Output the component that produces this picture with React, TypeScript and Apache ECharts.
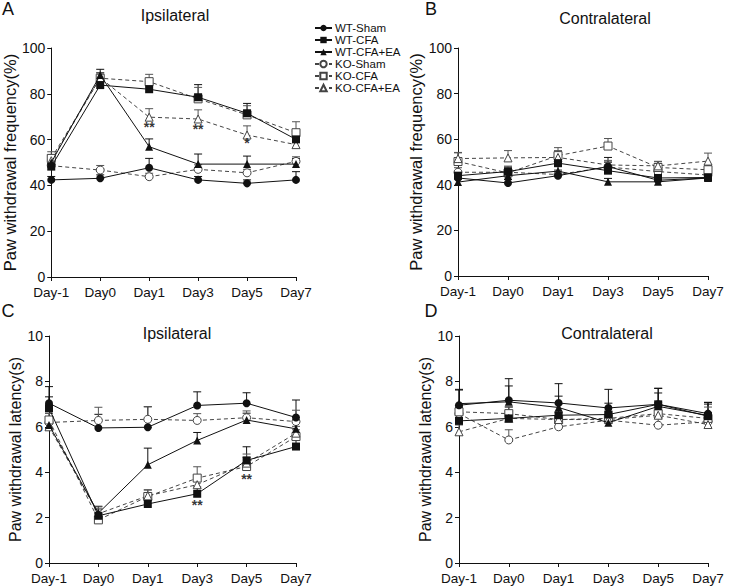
import React, { useEffect, useRef } from "react";
import * as echarts from "echarts";

const days = ["Day-1", "Day0", "Day1", "Day3", "Day5", "Day7"];
const groups = ["WT-Sham", "WT-CFA", "WT-CFA+EA", "KO-Sham", "KO-CFA", "KO-CFA+EA"];

// Panel A: ipsilateral withdrawal frequency (%), order = groups
const ipsiFreqMeans = [
  [42.4, 43.1, 47.7, 42.4, 40.9, 42.4],
  [48.2, 83.8, 82.0, 78.5, 71.5, 60.1],
  [50.0, 88.2, 56.9, 49.3, 49.3, 49.3],
  [48.6, 46.7, 43.8, 47.0, 45.5, 50.5],
  [51.8, 86.8, 85.3, 77.8, 70.8, 63.0],
  [50.8, 87.0, 69.8, 69.0, 62.0, 57.8],
];
const ipsiFreqErrs = [
  [1.5, 1.5, 4.1, 1.5, 1.5, 3.6],
  [3.0, 2.0, 2.5, 5.5, 4.3, 3.0],
  [3.0, 2.5, 3.4, 4.4, 3.5, 2.5],
  [2.0, 2.0, 1.5, 2.0, 1.5, 2.0],
  [2.9, 2.5, 3.2, 5.0, 4.0, 4.8],
  [2.5, 2.0, 3.7, 4.0, 4.0, 2.0],
];
const ipsiFreqStars: [string, number, string][] = [
  ["Day1", 65.5, "**"],
  ["Day3", 64.8, "**"],
  ["Day5", 58.6, "*"],
];

// Panel B: contralateral withdrawal frequency (%)
const contraFreqMeans = [
  [43.0, 40.8, 44.0, 48.0, 42.0, 43.0],
  [44.0, 45.8, 49.5, 46.2, 43.0, 43.2],
  [41.2, 44.0, 46.0, 41.3, 41.3, 43.0],
  [45.5, 45.5, 44.5, 47.8, 45.8, 44.3],
  [50.2, 45.2, 52.8, 57.0, 47.6, 46.6],
  [51.5, 51.8, 52.0, 48.7, 48.3, 50.4],
];
const contraFreqErrs = [
  [1.5, 1.5, 2.0, 2.0, 1.5, 1.5],
  [2.0, 2.0, 3.0, 5.8, 2.0, 1.5],
  [1.5, 2.0, 2.0, 1.5, 1.5, 1.5],
  [2.0, 2.0, 2.0, 2.0, 2.0, 2.0],
  [4.0, 3.0, 3.5, 3.3, 2.5, 2.0],
  [2.5, 3.2, 3.0, 2.0, 2.0, 3.5],
];

// Panel C: ipsilateral withdrawal latency (s)
const ipsiLatMeans = [
  [7.04, 5.95, 5.98, 6.94, 7.04, 6.41],
  [6.82, 2.08, 2.60, 3.05, 4.52, 5.13],
  [6.08, 2.20, 4.33, 5.40, 6.30, 5.91],
  [6.19, 6.28, 6.33, 6.28, 6.40, 6.23],
  [6.30, 1.90, 2.93, 3.74, 4.25, 5.57],
  [6.00, 2.17, 2.96, 3.45, 4.40, 5.72],
];
const ipsiLatErrs = [
  [0.73, 0.60, 0.90, 0.60, 0.46, 0.77],
  [0.50, 0.30, 0.30, 0.30, 0.60, 0.30],
  [0.30, 0.30, 0.73, 0.35, 0.30, 0.30],
  [0.40, 0.58, 0.56, 0.30, 0.30, 0.50],
  [0.30, 0.30, 0.28, 0.50, 0.40, 0.30],
  [0.30, 0.30, 0.27, 0.40, 0.40, 0.30],
];
const ipsiLatStars: [string, number, string][] = [
  ["Day3", 2.55, "**"],
  ["Day5", 3.7, "**"],
];

// Panel D: contralateral withdrawal latency (s)
const contraLatMeans = [
  [6.95, 7.17, 7.05, 6.83, 6.99, 6.58],
  [6.26, 6.37, 6.51, 6.54, 6.99, 6.47],
  [7.02, 7.10, 6.85, 6.18, 6.90, 6.50],
  [6.58, 5.42, 6.00, 6.29, 6.07, 6.22],
  [6.66, 6.58, 6.32, 6.37, 6.58, 6.37],
  [5.78, 6.37, 6.32, 6.32, 6.51, 6.10],
];
const contraLatErrs = [
  [0.70, 0.95, 0.85, 0.82, 0.70, 0.50],
  [0.30, 0.50, 0.50, 0.50, 0.50, 0.60],
  [0.60, 0.70, 0.50, 0.30, 0.80, 0.50],
  [0.30, 0.45, 0.30, 0.30, 0.30, 0.30],
  [0.30, 0.30, 0.30, 0.30, 0.50, 0.50],
  [0.30, 0.30, 0.30, 0.30, 0.30, 0.30],
];

const FONT = "'Liberation Sans', Arial, Helvetica, sans-serif";
const INK = "#111";
const KO_INK = "#444";

const groupStyles = [
  { symbol: "circle", filled: true, dashed: false, size: 8 },
  { symbol: "rect", filled: true, dashed: false, size: 8 },
  { symbol: "triangle", filled: true, dashed: false, size: 8 },
  { symbol: "circle", filled: false, dashed: true, size: 8 },
  { symbol: "rect", filled: false, dashed: true, size: 8 },
  { symbol: "triangle", filled: false, dashed: true, size: 8 },
];

function lineSeries(panel: number, means: number[][]) {
  return means.map((vals, g) => {
    const s = groupStyles[g];
    const c = s.dashed ? KO_INK : INK;
    return {
      type: "line",
      name: groups[g],
      xAxisIndex: panel,
      yAxisIndex: panel,
      data: vals,
      symbol: s.symbol,
      symbolSize: s.size,
      showSymbol: true,
      lineStyle: { color: c, width: 1, type: s.dashed ? [4, 3] : "solid" },
      itemStyle: {
        color: s.filled ? INK : "#fff",
        borderColor: c,
        borderWidth: s.filled ? 0 : 1,
      },
      emphasis: { disabled: true },
      z: s.filled ? 4 : 3,
    };
  });
}

function errorSeries(panel: number, means: number[][], errs: number[][]) {
  const data: number[][] = [];
  means.forEach((vals, g) =>
    vals.forEach((m, i) => data.push([i, m, errs[g][i], g]))
  );
  return {
    type: "custom",
    xAxisIndex: panel,
    yAxisIndex: panel,
    silent: true,
    z: 2,
    data,
    encode: { x: 0, y: 1 },
    renderItem: (_params: any, api: any) => {
      const x = api.value(0);
      const m = api.value(1);
      const e = api.value(2);
      const g = api.value(3);
      const p0 = api.coord([x, m]);
      const p1 = api.coord([x, m + e]);
      const color = g >= 3 ? "#555" : INK;
      return {
        type: "group",
        children: [
          {
            type: "line",
            shape: { x1: p0[0], y1: p0[1], x2: p1[0], y2: p1[1] },
            style: { stroke: color, lineWidth: 1 },
          },
          {
            type: "line",
            shape: { x1: p1[0] - 4, y1: p1[1], x2: p1[0] + 4, y2: p1[1] },
            style: { stroke: color, lineWidth: 1 },
          },
        ],
      };
    },
  };
}

function starSeries(panel: number, stars: [string, number, string][]) {
  return {
    type: "scatter",
    xAxisIndex: panel,
    yAxisIndex: panel,
    silent: true,
    symbolSize: 1,
    itemStyle: { color: "rgba(0,0,0,0)" },
    z: 5,
    data: stars.map(([d, v, t]) => ({
      value: [d, v],
      label: {
        show: true,
        position: "inside",
        formatter: t,
        color: "#000",
        fontSize: 14,
        fontWeight: "bold",
        fontFamily: FONT,
      },
    })),
  };
}

const grids = [
  { left: 48, top: 48, width: 248, height: 229 },
  { left: 458, top: 48, width: 250, height: 228 },
  { left: 49, top: 336, width: 247, height: 227 },
  { left: 459, top: 336, width: 249, height: 227 },
];

const axisLine = { show: true, lineStyle: { color: INK, width: 1 } };
const axisTick = { show: true, length: 4, lineStyle: { color: INK, width: 1 } };

function xAxis(i: number) {
  return {
    type: "category",
    gridIndex: i,
    data: days,
    boundaryGap: false,
    axisLine,
    axisTick,
    axisLabel: { color: INK, fontSize: 13.5, fontFamily: FONT, margin: 8 },
    splitLine: { show: false },
  };
}

function yAxis(i: number, max: number, interval: number, name: string, size: number) {
  return {
    type: "value",
    gridIndex: i,
    min: 0,
    max,
    interval,
    name,
    nameLocation: "middle",
    nameGap: 20,
    nameTextStyle: { color: INK, fontSize: size, fontFamily: FONT },
    axisLine,
    axisTick,
    axisLabel: { color: INK, fontSize: 14, fontFamily: FONT, margin: 6 },
    splitLine: { show: false },
  };
}

function text(t: string, x: number, y: number, size: number) {
  return {
    type: "text",
    x,
    y,
    style: {
      text: t,
      fill: INK,
      fontSize: size,
      fontFamily: FONT,
      textAlign: "center",
      textVerticalAlign: "middle",
    },
  };
}

export default function App() {
  const ref = useRef<HTMLDivElement>(null);
  useEffect(() => {
    if (!ref.current) return;
    const chart = echarts.init(ref.current, undefined, { renderer: "svg" });
    chart.setOption({
      animation: false,
      backgroundColor: "#fff",
      grid: grids,
      xAxis: [0, 1, 2, 3].map(xAxis),
      yAxis: [
        yAxis(0, 100, 20, "Paw withdrawal frequency(%)", 16.5),
        yAxis(1, 100, 20, "Paw withdrawal frequency(%)", 16.5),
        yAxis(2, 10, 2, "Paw withdrawal latency(s)", 16),
        yAxis(3, 10, 2, "Paw withdrawal latency(s)", 16),
      ],
      legend: {
        data: groups,
        orient: "vertical",
        left: 309,
        top: 17,
        itemWidth: 17,
        itemHeight: 8,
        itemGap: 0,
        selectedMode: false,
        textStyle: { color: INK, fontSize: 11.5, fontFamily: FONT, lineHeight: 11.8, padding: [0, 0, 0, -2] },
      },
      graphic: [
        text("A", 8, 9, 18),
        text("B", 431, 9, 18),
        text("C", 8, 311, 18),
        text("D", 431, 311, 18),
        text("Ipsilateral", 175, 15, 16),
        text("Contralateral", 605, 18, 16),
        text("Ipsilateral", 177, 333, 16),
        text("Contralateral", 607, 333, 16),
      ],
      series: [
        errorSeries(0, ipsiFreqMeans, ipsiFreqErrs),
        errorSeries(1, contraFreqMeans, contraFreqErrs),
        errorSeries(2, ipsiLatMeans, ipsiLatErrs),
        errorSeries(3, contraLatMeans, contraLatErrs),
        ...lineSeries(0, ipsiFreqMeans),
        ...lineSeries(1, contraFreqMeans),
        ...lineSeries(2, ipsiLatMeans),
        ...lineSeries(3, contraLatMeans),
        starSeries(0, ipsiFreqStars),
        starSeries(2, ipsiLatStars),
      ],
    });
    return () => chart.dispose();
  }, []);
  return (
    <div
      ref={ref}
      style={{ position: "absolute", left: 0, top: 0, width: 729, height: 586, background: "#fff" }}
    />
  );
}
